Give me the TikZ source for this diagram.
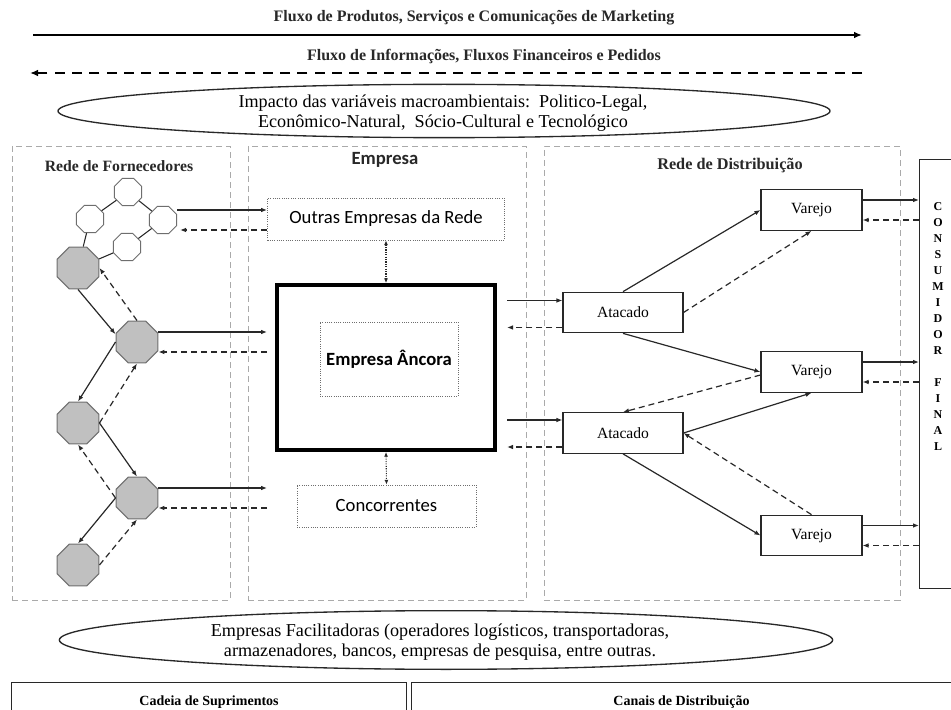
\documentclass[tikz,border=0pt]{standalone}
\usepackage{fontspec}
\setmainfont{Liberation Serif}
\newfontfamily\calibri{Carlito}
\usetikzlibrary{arrows.meta, positioning, shapes.geometric, calc}
\definecolor{PG}{RGB}{170,170,170}
\definecolor{OG}{RGB}{192,192,192}
\definecolor{DG}{RGB}{40,40,40}
\definecolor{MG}{RGB}{110,110,110}

\begin{document}
\begin{tikzpicture}[x=0.75pt, y=-0.75pt,
  panel/.style={draw=PG, line width=0.7pt, dash pattern=on 4.5pt off 3pt,
                inner sep=0pt},
  ttl/.style={font=\fontsize{11.8}{13}\selectfont\bfseries, text=DG},
  oct/.style={regular polygon, regular polygon sides=8, draw=MG, fill=OG,
              line width=0.8pt, inner sep=0pt, minimum size=34pt},
  woct/.style={regular polygon, regular polygon sides=8, draw=MG, fill=white,
               line width=0.7pt, inner sep=0pt, minimum size=22pt},
  ebox/.style={draw=MG, densely dotted, line width=0.7pt, inner sep=0pt,
               font=\calibri\fontsize{14}{16}\selectfont},
  vbox/.style={draw=DG, line width=0.8pt, inner sep=0pt,
               minimum height=30.5pt, font=\fontsize{11.7}{13}\selectfont},
  arr/.style={-{Latex[length=4.5pt,width=3.5pt]}, line width=0.9pt, draw=DG},
  darr/.style={arr, dash pattern=on 4.5pt off 3pt},
  link/.style={line width=0.8pt, draw=DG},
  dbl/.style={{Latex[length=3.5pt,width=3pt]}-{Latex[length=3.5pt,width=3pt]},
              densely dotted, line width=0.8pt, draw=DG},
  foot/.style={draw=DG, line width=0.8pt, anchor=north west,
               minimum height=30pt, font=\fontsize{10.5}{12}\selectfont\bfseries}
]
\useasboundingbox (0,0) rectangle (951,710);

% Flows on top
\coordinate (f1a) at (33,35);
\coordinate (f1b) at (862,35);
\coordinate (f2a) at (862,73);
\coordinate (f2b) at (30,73);
\node[ttl, font=\fontsize{12}{13}\selectfont\bfseries] (f1t) at (474,18)
  {Fluxo de Produtos, Serviços e Comunicações de Marketing};
\node[ttl, font=\fontsize{12}{13}\selectfont\bfseries] (f2t) at (484,57)
  {Fluxo de Informações, Fluxos Financeiros e Pedidos};
\draw[-{Latex[length=6pt,width=5pt]}, line width=1.5pt] (f1a) -- (f1b);
\draw[-{Latex[length=6pt,width=5pt]}, line width=2pt,
      dash pattern=on 7.5pt off 5.5pt] (f2a) -- (f2b);

% Macro environment
\node[ellipse, draw=DG, line width=1pt, minimum width=579pt,
      minimum height=40pt] (macro) at (444,111) {};
\node[align=center, font=\fontsize{13.6}{14.5}\selectfont] (macrot) at (443,113)
  {Impacto das variáveis macroambientais:\ \ Politico-Legal,\\
   Econômico-Natural,\ \ Sócio-Cultural e Tecnológico};

% Panels
\node[panel, minimum width=163.5pt, minimum height=340.5pt] (forn) at (121,373) {};
\node[panel, minimum width=208.5pt, minimum height=340.5pt] (emp)  at (387,373) {};
\node[panel, minimum width=267pt,   minimum height=340.5pt] (dist) at (722,373) {};
\node[ttl] (fornt) at (119,166) {Rede de Fornecedores};
\node[ttl, font=\calibri\fontsize{14}{16}\selectfont\bfseries] (empt) at (385,160) {Empresa};
\node[ttl, font=\fontsize{12.2}{13}\selectfont\bfseries] (distt) at (730,166) {Rede de Distribuição};

% Supplier network
\node[woct] (w1) at (128,192) {};
\node[woct] (w2) at (90,219)  {};
\node[woct] (w3) at (163,220) {};
\node[woct] (w4) at (127,247) {};
\node[oct]  (g1) at (78,268)  {};
\node[oct]  (g2) at (137,342) {};
\node[oct]  (g3) at (78,423)  {};
\node[oct]  (g4) at (137,498) {};
\node[oct]  (g5) at (78,565)  {};

\draw[link] (g1) -- (w2) -- (w1) -- (w3) -- (w4) -- (g1);
\draw[arr]  (g1.south) -- (g2.160);
\draw[darr] (g2.north) -- (g1.east);
\draw[arr]  (g2.west)  -- (g3.north);
\draw[darr] (g3.east)  -- (g2.south);
\draw[arr]  (g3.east)  -- (g4.north);
\draw[darr] (g4.west)  -- (g3.south);
\draw[arr]  (g4.west)  -- (g5.north);
\draw[darr] (g5.east)  -- (g4.south);

% Focal company
\node[ebox, minimum width=177.75pt, minimum height=31.5pt] (outras) at (386,219)
  {Outras Empresas da Rede};
\node[draw, line width=3pt, minimum width=163.5pt, minimum height=123.75pt] (ancora)
  at (386,367.5) {};
\node[ebox, minimum width=103.5pt, minimum height=55.5pt, font=\calibri\fontsize{14}{16}\selectfont\bfseries]
  (ancorat) at (389,359) {Empresa Âncora};
\node[ebox, minimum width=134.25pt, minimum height=31.5pt] (conc) at (386.5,506)
  {Concorrentes};
\draw[dbl] (outras.south) -- (ancora.north);
\draw[dbl] (ancora.south) -- (conc.north);

\draw[arr]  ($(w3.east)+(0,-10)$) -- ($(w3.east -| outras.west)+(0,-10)$);
\draw[darr] ($(w3.east -| outras.west)+(0,10)$) -- ($(w3.east)+(3,10)$);
\draw[arr]  ($(g2.east)+(0,-10)$) -- ($(g2.east -| outras.west)+(0,-10)$);
\draw[darr] ($(g2.east -| outras.west)+(0,10)$) -- ($(g2.east)+(0,10)$);
\draw[arr]  ($(g4.east)+(0,-10)$) -- ($(g4.east -| outras.west)+(0,-10)$);
\draw[darr] ($(g4.east -| outras.west)+(0,10)$) -- ($(g4.east)+(0,10)$);

% Distribution network
\node[vbox, minimum width=90pt]    (at1) at (623,312.5) {Atacado};
\node[vbox, minimum width=90pt]    (at2) at (623,433)   {Atacado};
\node[vbox, minimum width=75.75pt] (v1)  at (811.5,210) {Varejo};
\node[vbox, minimum width=75.75pt] (v2)  at (811.5,372) {Varejo};
\node[vbox, minimum width=75.75pt] (v3)  at (811.5,535.5) {Varejo};

\draw[arr]  ($(ancora.east |- at1.west)+(10,-12)$) -- ($(at1.west)+(0,-12)$);
\draw[darr] ($(at1.west)+(0,15)$) -- ($(ancora.east |- at1.west)+(10,15)$);
\draw[arr]  ($(ancora.east |- at2.west)+(10,-13)$) -- ($(at2.west)+(0,-13)$);
\draw[darr] ($(at2.west)+(0,14)$) -- ($(ancora.east |- at2.west)+(10,14)$);

\draw[arr]  (at1.north) -- (v1.west);
\draw[darr] (at1.east)  -- (v1.south);
\draw[arr]  (at1.south) -- (v2.west);
\draw[darr] ($(v2.west)+(0,3)$) -- (at2.north);
\draw[arr]  (at2.east)  -- (v2.south);
\draw[darr] (v3.north)  -- (at2.east);
\draw[arr]  (at2.south) -- (v3.west);

% Final consumer
\node[draw=DG, line width=0.8pt, anchor=north west, minimum width=49.5pt,
      minimum height=321.75pt] (cons) at (919,159) {};
\node[align=center, font=\fontsize{9}{12}\selectfont\bfseries] (const) at (938,327)
  {C\\O\\N\\S\\U\\M\\I\\D\\O\\R\\[12pt]F\\I\\N\\A\\L};
\foreach \v in {v1,v2,v3} {
  \draw[arr]  ($(\v.east)+(0,-10)$) -- ($(\v.east -| cons.west)+(0,-10)$);
  \draw[darr] ($(\v.east -| cons.west)+(0,10)$) -- ($(\v.east)+(0,10)$);
}

% Facilitating companies
\node[ellipse, draw=DG, line width=1pt, minimum width=580pt,
      minimum height=44pt] (facil) at (446,640) {};
\node[align=center, font=\fontsize{13.6}{14.5}\selectfont] (facilt) at (440,642)
  {Empresas Facilitadoras (operadores logísticos, transportadoras,\\
   armazenadores, bancos, empresas de pesquisa, entre outras.};

% Bottom labels
\node[foot, minimum width=296.25pt] (cadeia) at (11,682) {Cadeia de Suprimentos};
\node[foot, minimum width=405pt] (canais) at (411,682) {Canais de Distribuição};
\end{tikzpicture}
\end{document}
